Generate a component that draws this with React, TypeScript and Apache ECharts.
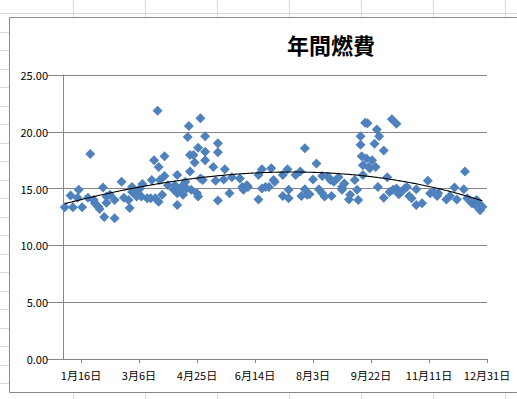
import React, { useEffect, useRef } from "react";
import * as echarts from "echarts";

const chartTitle = "年間燃費";

// day of year (2012, leap year) for each fill-up
const days = [
  2, 7, 9, 13, 14, 17, 22, 24, 27, 28, 31, 32, 35, 36, 38, 38, 41, 45, 45, 51,
  53, 57, 58, 60, 60, 63, 64, 67, 68, 69, 73, 76, 77, 79, 80, 82, 83, 83, 84, 86,
  88, 88, 91, 96, 97, 99, 99, 99, 101, 104, 104, 106, 107, 108, 109, 110, 110, 111, 113, 114,
  116, 117, 117, 119, 119, 121, 123, 123, 123, 130, 132, 134, 134, 134, 139, 140, 144, 146, 153, 155,
  156, 157, 159, 160, 169, 169, 172, 172, 175, 178, 180, 182, 183, 190, 190, 194, 195, 195, 201, 205,
  206, 209, 209, 211, 213, 216, 219, 221, 224, 224, 226, 229, 231, 232, 234, 238, 241, 241, 243, 247,
  248, 252, 254, 255, 257, 257, 258, 259, 259, 261, 262, 263, 264, 265, 267, 269, 270, 271, 272, 273,
  277, 277, 280, 282, 284, 285, 288, 288, 290, 292, 295, 297, 299, 301, 305, 305, 310, 315, 317, 320,
  323, 324, 331, 334, 338, 340, 346, 347, 349, 351, 353, 356, 357, 359, 360, 362,
];

// fuel economy (km/L)
const economy = [
  13.35, 14.4, 13.35, 14.2, 14.9, 13.35, 14.2, 18.05, 14.0, 13.7, 13.4, 13.2, 15.1, 12.5, 14.3, 13.75, 14.45, 14.0, 12.4, 15.6,
  14.2, 14.0, 13.3, 15.15, 14.7, 14.6, 14.3, 15.0, 14.3, 15.4, 14.15, 14.15, 15.75, 17.5, 14.15, 21.85, 16.9, 13.85, 15.75, 14.45,
  17.85, 16.1, 15.3, 14.9, 15.3, 16.2, 14.6, 13.55, 14.9, 15.3, 14.45, 15.6, 15.0, 19.55, 20.5, 16.5, 17.95, 14.9, 17.95, 17.3,
  14.6, 14.3, 18.6, 21.2, 15.9, 15.75, 19.6, 17.5, 18.25, 16.9, 15.7, 13.95, 19.0, 18.2, 15.8, 16.7, 14.6, 16.0, 15.9, 15.15,
  14.9, 15.0, 15.3, 15.15, 16.2, 14.05, 15.0, 16.7, 15.15, 15.15, 16.8, 15.75, 15.6, 14.35, 16.2, 16.7, 14.9, 14.15, 16.2, 16.5,
  14.35, 14.95, 18.55, 14.45, 14.5, 15.8, 17.2, 14.95, 14.6, 16.1, 14.3, 16.05, 15.75, 14.35, 15.6, 16.0, 15.15, 14.9, 15.45, 14.05,
  14.45, 15.75, 14.9, 14.0, 19.6, 18.85, 17.85, 17.05, 16.2, 20.8, 17.65, 20.75, 16.9, 16.8, 17.5, 18.95, 16.9, 20.2, 15.15, 19.6,
  18.35, 14.2, 16.0, 14.7, 21.1, 14.9, 20.7, 15.0, 14.5, 14.7, 15.0, 15.15, 14.35, 14.15, 14.95, 13.55, 13.7, 15.7, 14.6, 14.7,
  14.35, 14.6, 14.05, 14.35, 15.1, 14.05, 14.95, 16.5, 14.15, 13.95, 13.7, 13.55, 14.0, 13.7, 13.1, 13.4,
];

const tickDays = [16, 66, 116, 166, 216, 266, 316, 366];
const tickLabels = ["1月16日", "3月6日", "4月25日", "6月14日", "8月3日", "9月22日", "11月11日", "12月31日"];
const trendOrder = 3;

const sheetCols = [73, 145, 217, 289, 361, 433, 505];

function polyFit(xs: number[], ys: number[], order: number, scale: number): number[] {
  const n = order + 1;
  const A: number[][] = [];
  for (let i = 0; i < n; i++) {
    A.push(new Array(n + 1).fill(0));
  }
  for (let k = 0; k < xs.length; k++) {
    const x = xs[k] / scale;
    const pw: number[] = [];
    for (let i = 0; i <= 2 * order; i++) pw.push(Math.pow(x, i));
    for (let i = 0; i < n; i++) {
      for (let j = 0; j < n; j++) A[i][j] += pw[i + j];
      A[i][n] += pw[i] * ys[k];
    }
  }
  for (let c = 0; c < n; c++) {
    let p = c;
    for (let r = c + 1; r < n; r++) if (Math.abs(A[r][c]) > Math.abs(A[p][c])) p = r;
    const t = A[c]; A[c] = A[p]; A[p] = t;
    for (let r = 0; r < n; r++) {
      if (r === c) continue;
      const f = A[r][c] / A[c][c];
      for (let j = c; j <= n; j++) A[r][j] -= f * A[c][j];
    }
  }
  return A.map((row, i) => row[n] / row[i]);
}

export default function App() {
  const ref = useRef<HTMLDivElement>(null);
  useEffect(() => {
    if (!ref.current) return;
    const chart = echarts.init(ref.current, null, { renderer: "svg" });
    const scatter = days.map((d, i) => [d, economy[i]]);
    const scale = 366;
    const coef = polyFit(days, economy, trendOrder, scale);
    const dMin = Math.min(...days);
    const dMax = Math.max(...days);
    const trend: number[][] = [];
    for (let d = dMin; d <= dMax + 0.001; d += 1) {
      const x = d / scale;
      let y = 0;
      for (let i = 0; i < coef.length; i++) y += coef[i] * Math.pow(x, i);
      trend.push([d, y]);
    }

    const bg: any[] = [];
    for (const cx of sheetCols) {
      bg.push({ type: "line", z: -30, silent: true, shape: { x1: cx + 0.5, y1: 0, x2: cx + 0.5, y2: 399 }, style: { stroke: "#d9d9d9", lineWidth: 1 } });
    }
    for (let k = 0; k < 22; k++) {
      const y = Math.round(13 + 18.5 * k) + 0.5;
      bg.push({ type: "line", z: -30, silent: true, shape: { x1: 0, y1: y, x2: 517, y2: y }, style: { stroke: "#d9d9d9", lineWidth: 1 } });
    }
    bg.push({ type: "rect", z: -20, silent: true, shape: { x: 9.5, y: 17.5, width: 640, height: 375 }, style: { fill: "#ffffff", stroke: "#8a8a8a", lineWidth: 1 } });
    bg.push({
      type: "text", z: 10, x: 331, y: 44,
      style: { text: chartTitle, textAlign: "center", textVerticalAlign: "middle", font: 'bold 22px "Noto Sans CJK JP"', fill: "#000000" },
    });

    chart.setOption({
      animation: false,
      backgroundColor: "#ffffff",
      graphic: bg,
      grid: { left: 63, right: 30, top: 75, bottom: 40, containLabel: false, outerBoundsMode: "none" },
      xAxis: {
        type: "value",
        min: 0.5,
        max: 366,
        splitLine: { show: false },
        axisLine: { show: true, onZero: false, lineStyle: { color: "#868686", width: 1 } },
        axisTick: { show: true, customValues: tickDays, length: 4, inside: false, lineStyle: { color: "#868686" } },
        axisLabel: {
          customValues: tickDays,
          formatter: (v: number) => {
            const i = tickDays.indexOf(Math.round(v));
            return i >= 0 ? tickLabels[i] : "";
          },
          margin: 10,
          color: "#000000",
          fontSize: 11,
          fontFamily: '"Noto Sans CJK JP"',
        },
      },
      yAxis: {
        type: "value",
        min: 0,
        max: 25,
        interval: 5,
        splitLine: { show: true, lineStyle: { color: "#868686", width: 1 } },
        axisLine: { show: true, lineStyle: { color: "#868686", width: 1 } },
        axisTick: { show: true, length: 16, lineStyle: { color: "#868686" } },
        axisLabel: {
          formatter: (v: number) => v.toFixed(2),
          margin: 15,
          color: "#000000",
          fontSize: 11,
          fontFamily: '"Noto Sans CJK JP"',
        },
      },
      series: [
        {
          type: "scatter",
          data: scatter,
          symbol: "diamond",
          symbolSize: 10,
          itemStyle: { color: "#4f81bd", opacity: 1 },
          z: 2,
        },
        {
          type: "line",
          data: trend,
          showSymbol: false,
          symbol: "none",
          smooth: false,
          lineStyle: { color: "#000000", width: 1.1 },
          z: 3,
        },
      ],
    });
    return () => chart.dispose();
  }, []);
  return <div ref={ref} style={{ position: "fixed", left: 0, top: 0, width: 517, height: 399 }} />;
}
